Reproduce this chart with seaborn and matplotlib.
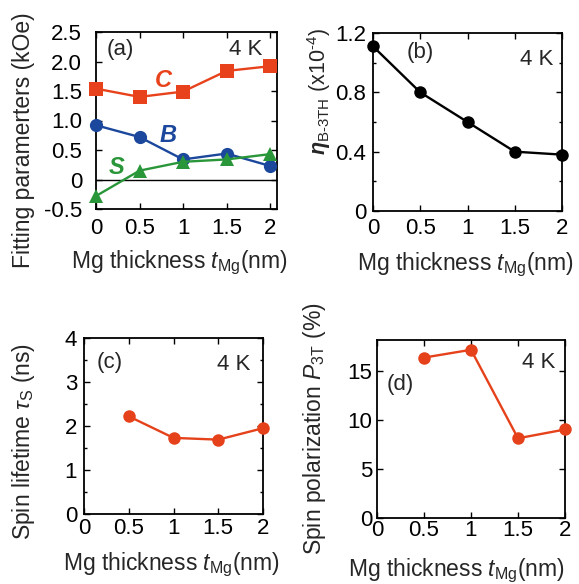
import numpy as np
import matplotlib
matplotlib.use('Agg')
import matplotlib.pyplot as plt
import seaborn as sns
from matplotlib.ticker import MultipleLocator

thickness = [0, 0.5, 1, 1.5, 2]
param_C = [1.54, 1.40, 1.49, 1.84, 1.92]
param_B = [0.92, 0.72, 0.34, 0.44, 0.23]
param_S = [-0.28, 0.15, 0.30, 0.34, 0.43]

eta_b3th = [1.11, 0.80, 0.60, 0.40, 0.38]

thickness_cd = [0.5, 1, 1.5, 2]
spin_lifetime = [2.22, 1.73, 1.69, 1.95]
spin_polarization = [16.4, 17.2, 8.15, 9.05]

x_ticklabels = ['0', '0.5', '1', '1.5', '2']

COLOURS = {
    'C': '#e8421c',
    'B': '#1b479c',
    'S': '#2a963a',
    'cd': '#e5421b',
}

sns.set_theme(style='ticks')
plt.rcParams['font.family'] = ['Liberation Sans', 'DejaVu Sans']
plt.rcParams['mathtext.fontset'] = 'custom'
plt.rcParams['mathtext.rm'] = 'Liberation Sans'
plt.rcParams['mathtext.it'] = 'Liberation Sans:italic'
plt.rcParams['mathtext.bf'] = 'Liberation Sans:bold:italic'
plt.rcParams['axes.edgecolor'] = 'black'
plt.rcParams['axes.linewidth'] = 1.3

TICK_FS = 16
LABEL_FS = 16.5

W, H = 579, 584
fig = plt.figure(figsize=(W / 100, H / 100), dpi=100)


def add_axes(left, top, right, bottom):
    return fig.add_axes([left / W, 1 - bottom / H, (right - left) / W, (bottom - top) / H])


def style_axes(ax, ypad, xpad):
    ax.tick_params(which='both', direction='in', top=True, right=True,
                   colors='black', labelsize=TICK_FS)
    ax.tick_params(which='major', length=4, width=1)
    ax.tick_params(which='minor', length=2.5, width=1)
    ax.tick_params(axis='y', pad=ypad)
    ax.tick_params(axis='x', pad=xpad)
    for sp in ax.spines.values():
        sp.set_color('black')
    for line in ax.lines:
        line.set_clip_on(False)
        line.set_zorder(5)


def draw(ax, x, y, colour, marker, size):
    sns.lineplot(x=x, y=y, ax=ax, color=colour, marker=marker,
                 markersize=size, markeredgewidth=0, lw=1.7)


xlabel = r'Mg thickness $t_{\rm Mg}$(nm)'

# (a)
ax = add_axes(96, 32, 277, 209)
ax.axhline(0, color='black', lw=1)
draw(ax, thickness, param_C, COLOURS['C'], 's', 9.5)
draw(ax, thickness, param_B, COLOURS['B'], 'o', 9.5)
draw(ax, thickness, param_S, COLOURS['S'], '^', 10.5)
ax.set_xlim(0, 2.08)
ax.set_ylim(-0.5, 2.5)
ax.set_xticks(thickness, x_ticklabels)
ax.set_yticks([-0.5, 0, 0.5, 1, 1.5, 2, 2.5], ['-0.5', '0', '0.5', '1.0', '1.5', '2.0', '2.5'])
style_axes(ax, 10, 6.5)
ax.lines[0].set_clip_on(True)
for lbl, (lx, ly) in {'C': (0.77, 1.68), 'B': (0.83, 0.75), 'S': (0.24, 0.21)}.items():
    ax.text(lx, ly, lbl, color=COLOURS[lbl], fontsize=17, fontweight='bold',
            fontstyle='italic', ha='center', va='center')
ax.text(0.06, 0.96, '(a)', transform=ax.transAxes, fontsize=16, va='top', ha='left')
ax.text(0.92, 0.96, '4 K', transform=ax.transAxes, fontsize=16, va='top', ha='right')
ax.set_xlabel(xlabel, fontsize=LABEL_FS)
ax.set_ylabel('Fitting paramerters (kOe)', fontsize=LABEL_FS)
ax.xaxis.set_label_coords(0.46, -0.226)
ax.yaxis.set_label_coords(-0.337, 0.39)

# (b)
ax = add_axes(373, 33, 562, 211)
draw(ax, thickness, eta_b3th, 'black', 'o', 9)
ax.set_xlim(0, 2)
ax.set_ylim(0, 1.2)
ax.set_xticks(thickness, x_ticklabels)
ax.set_yticks([0, 0.4, 0.8, 1.2], ['0', '0.4', '0.8', '1.2'])
ax.yaxis.set_minor_locator(MultipleLocator(0.2))
style_axes(ax, 5, 5)
ax.text(0.18, 0.95, '(b)', transform=ax.transAxes, fontsize=16, va='top', ha='left')
ax.text(0.952, 0.91, '4 K', transform=ax.transAxes, fontsize=16, va='top', ha='right')
ax.set_xlabel(xlabel, fontsize=LABEL_FS)
ax.set_ylabel(r'$\mathbf{\eta}_{\rm B\text{-}3TH}$ (x10$^{\text{-}4}$)', fontsize=15.5)
ax.xaxis.set_label_coords(0.49, -0.225)
ax.yaxis.set_label_coords(-0.21, 0.67)

# (c)
ax = add_axes(84, 338, 263, 514)
draw(ax, thickness_cd, spin_lifetime, COLOURS['cd'], 'o', 9)
ax.set_xlim(0, 2)
ax.set_ylim(0, 4)
ax.set_xticks(thickness, x_ticklabels)
ax.set_yticks([0, 1, 2, 3, 4])
ax.yaxis.set_minor_locator(MultipleLocator(0.5))
style_axes(ax, 5, 3)
ax.text(0.07, 0.92, '(c)', transform=ax.transAxes, fontsize=16, va='top', ha='left')
ax.text(0.93, 0.91, '4 K', transform=ax.transAxes, fontsize=16, va='top', ha='right')
ax.set_xlabel(xlabel, fontsize=LABEL_FS)
ax.set_ylabel(r'Spin lifetime $\tau_{\rm S}$ (ns)', fontsize=LABEL_FS)
ax.xaxis.set_label_coords(0.49, -0.21)
ax.yaxis.set_label_coords(-0.26, 0.41)

# (d)
ax = add_axes(377, 340, 565, 518)
draw(ax, thickness_cd, spin_polarization, COLOURS['cd'], 'o', 9)
ax.set_xlim(0, 2)
ax.set_ylim(0, 18.2)
ax.set_xticks(thickness, x_ticklabels)
ax.set_yticks([0, 5, 10, 15])
style_axes(ax, 3.5, 1.5)
ax.text(0.053, 0.81, '(d)', transform=ax.transAxes, fontsize=16, va='top', ha='left')
ax.text(0.947, 0.935, '4 K', transform=ax.transAxes, fontsize=16, va='top', ha='right')
ax.set_xlabel(xlabel, fontsize=LABEL_FS)
ax.set_ylabel(r'Spin polarization $P_{\rm 3T}$ (%)', fontsize=LABEL_FS)
ax.xaxis.set_label_coords(0.42, -0.215)
ax.yaxis.set_label_coords(-0.26, 0.5)

fig.savefig('out.png', dpi=100)
